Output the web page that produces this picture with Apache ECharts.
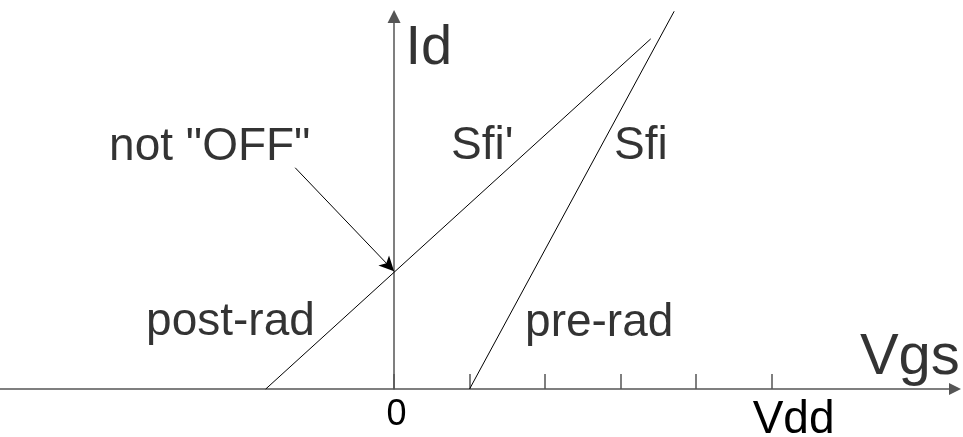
<!DOCTYPE html>
<html>
<head>
<meta charset="utf-8">
<title>Id vs Vgs: pre-rad and post-rad transfer characteristics</title>
<script src="https://cdn.jsdelivr.net/npm/echarts@6/dist/echarts.min.js"></script>
<style>
  html, body { margin: 0; padding: 0; background: #fff; }
  #chart { width: 963px; height: 437px; }
</style>
</head>
<body>
<div id="chart"></div>
<script>
// Gate voltage in tick units (0 .. Vdd = 5), drain current in arbitrary units.
const tickValues = [0, 1, 2, 3, 4, 5];
const tickLabels = ['0', '', '', '', '', 'Vdd'];

// Transfer characteristics
const preRad = [[1, 0], [3.71, 5.07]];      // slope Sfi
const postRad = [[-1.7, 0], [3.4, 4.70]];   // slope Sfi'

// Leakage current at Vgs = 0 after irradiation and the note pointing at it
const notOffPoint = [0, 1.58];
const notOffFrom = [-1.31, 2.97];

// Annotation texts and their anchors (data units)
const noteTexts = ['Id', 'not "OFF"', "Sfi'", 'Sfi', 'post-rad', 'pre-rad', 'Vgs'];
const noteAnchors = [[0.15, 4.575], [-3.775, 3.24], [0.755, 3.26], [2.914, 3.26], [-3.285, 0.90], [1.735, 0.886], [6.17, 0.41]];
const noteSizes = [56, 46, 46, 46, 46, 46, 58];

const FONT = "'Liberation Sans', Arial, sans-serif";
const AXIS_COLOR = '#555';

const chart = echarts.init(document.getElementById('chart'), null, { renderer: 'canvas' });

const notes = noteTexts.map((t, i) => ({
  value: noteAnchors[i],
  label: { formatter: t, fontSize: noteSizes[i] }
}));

chart.setOption({
  animation: false,
  backgroundColor: '#fff',
  grid: { left: 0, right: 8, top: 16.5, bottom: 48, containLabel: false, outerBoundsMode: 'none' },
  xAxis: {
    type: 'value',
    min: -5.22,
    max: 7.43,
    splitLine: { show: false },
    axisLine: {
      onZero: true,
      symbol: ['none', 'triangle'],
      symbolSize: [12, 12],
      lineStyle: { color: AXIS_COLOR, width: 1.5 }
    },
    axisTick: {
      show: true,
      inside: true,
      length: 15,
      customValues: tickValues,
      lineStyle: { color: AXIS_COLOR, width: 1.5 }
    },
    axisLabel: {
      show: true,
      margin: 8,
      hideOverlap: false,
      customValues: tickValues.filter((v, i) => tickLabels[i] !== ''),
      formatter: function (v) {
        const i = tickValues.indexOf(Math.round(v));
        const t = tickLabels[i];
        return t === '0' ? '{zero|' + t + '}' : '{vdd|' + t + '}';
      },
      rich: {
        zero: { fontFamily: FONT, fontSize: 36, lineHeight: 36, color: '#000', padding: [0, 0, 0, 5] },
        vdd: { fontFamily: FONT, fontSize: 46, lineHeight: 46, color: '#000', padding: [0, 0, 0, 44] }
      }
    }
  },
  yAxis: {
    type: 'value',
    min: 0,
    max: 5,
    splitLine: { show: false },
    axisLine: {
      onZero: true,
      symbol: ['none', 'triangle'],
      symbolSize: [13, 13],
      lineStyle: { color: AXIS_COLOR, width: 1.5 }
    },
    axisTick: { show: false },
    axisLabel: { show: false }
  },
  series: [
    {
      name: 'pre-rad',
      type: 'line',
      data: preRad,
      symbol: 'none',
      clip: false,
      silent: true,
      lineStyle: { color: '#000', width: 1 }
    },
    {
      name: 'post-rad',
      type: 'line',
      data: postRad,
      symbol: 'none',
      clip: false,
      silent: true,
      lineStyle: { color: '#000', width: 1 }
    },
    {
      name: 'not OFF',
      type: 'line',
      data: [],
      symbol: 'none',
      silent: true,
      markLine: {
        silent: true,
        symbol: ['none', 'arrow'],
        symbolSize: [11, 15],
        label: { show: false },
        lineStyle: { color: '#000', width: 1, type: 'solid' },
        data: [[{ coord: notOffFrom }, { coord: notOffPoint }]]
      }
    },
    {
      name: 'notes',
      type: 'scatter',
      data: notes,
      symbolSize: 0,
      clip: false,
      silent: true,
      label: {
        show: true,
        position: [0, 0],
        align: 'left',
        verticalAlign: 'middle',
        fontFamily: FONT,
        color: '#000'
      }
    }
  ]
});
</script>
</body>
</html>
